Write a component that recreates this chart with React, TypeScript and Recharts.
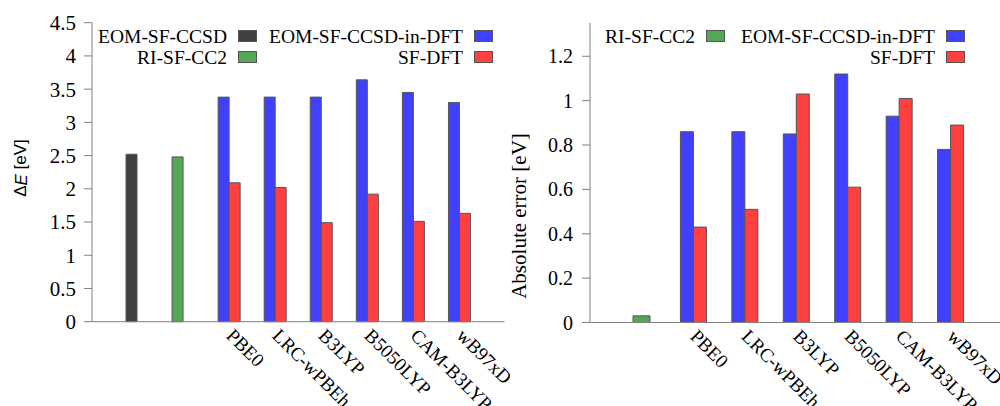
import { BarChart, Bar, Cell, XAxis, YAxis, Legend, Label } from 'recharts'

// methods on the x axis
const referenceMethods = ['EOM-SF-CCSD', 'RI-SF-CC2']
const functionals = ['PBE0', 'LRC-wPBEh', 'B3LYP', 'B5050LYP', 'CAM-B3LYP', 'wB97xD']

// left panel: excitation energies, eV
const eomSfCcsd = [2.52]
const riSfCc2 = [2.48]
const embeddedEnergy = [3.38, 3.38, 3.38, 3.64, 3.45, 3.3]
const sfDftEnergy = [2.09, 2.02, 1.49, 1.92, 1.51, 1.63]

// right panel: absolute error vs EOM-SF-CCSD, eV
const riSfCc2Error = [0.03]
const embeddedError = [0.86, 0.86, 0.85, 1.12, 0.93, 0.78]
const sfDftError = [0.43, 0.51, 1.03, 0.61, 1.01, 0.89]

const energyTicks = [0, 0.5, 1, 1.5, 2, 2.5, 3, 3.5, 4, 4.5]
const errorTicks = [0, 0.2, 0.4, 0.6, 0.8, 1, 1.2]

const COLORS = {
  eom: '#404040',
  cc2: '#55a655',
  embedded: '#4040ff',
  sfDft: '#ff4040',
  edge: '#555555',
  axis: '#808080',
}
const SERIF = "'Liberation Serif', 'Times New Roman', serif"
const SANS = "'Liberation Sans', Arial, sans-serif"

const energyData = [
  { name: referenceMethods[0], first: eomSfCcsd[0], second: null },
  { name: referenceMethods[1], first: riSfCc2[0], second: null },
  ...functionals.map((name, i) => ({ name, first: embeddedEnergy[i], second: sfDftEnergy[i] })),
]
const energyColors = [COLORS.eom, COLORS.cc2, ...functionals.map(() => COLORS.embedded)]

const errorData = [
  { name: referenceMethods[1], cc2: riSfCc2Error[0], embedded: null, sfDft: null },
  ...functionals.map((name, i) => ({ name, cc2: null, embedded: embeddedError[i], sfDft: sfDftError[i] })),
]

function AngledTick({ x, y, payload }: any) {
  if (referenceMethods.includes(payload.value)) return <g />
  const ax = x - 4
  const ay = y + 15
  return (
    <text
      x={ax}
      y={ay}
      transform={`rotate(45, ${ax}, ${ay})`}
      textAnchor="start"
      style={{ fontFamily: SERIF, fontSize: 19 }}
      fill="#000"
    >
      {payload.value}
    </text>
  )
}

function ValueTick({ x, y, payload, size }: any) {
  return (
    <text x={x} y={y} dy="0.355em" textAnchor="end" style={{ fontFamily: SERIF, fontSize: size }} fill="#000">
      {payload.value}
    </text>
  )
}

interface LegendItem {
  label: string
  color: string
  textRight: number
  row: number
}

function legendContent(items: LegendItem[], width: number, height: number) {
  return () => (
    <svg width={width} height={height} style={{ display: 'block' }}>
      {items.map(({ label, color, textRight, row }) => (
        <g key={label}>
          <text
            x={textRight}
            y={43 + row * 20.5}
            textAnchor="end"
            style={{ fontFamily: SERIF, fontSize: 19.5 }}
            fill="#000"
          >
            {label}
          </text>
          <rect
            x={textRight + 11.5}
            y={30.5 + row * 21}
            width={18}
            height={11}
            fill={color}
            stroke={COLORS.edge}
          />
        </g>
      ))}
    </svg>
  )
}

const energyLegend: LegendItem[] = [
  { label: 'EOM-SF-CCSD', color: COLORS.eom, textRight: 227, row: 0 },
  { label: 'RI-SF-CC2', color: COLORS.cc2, textRight: 227, row: 1 },
  { label: 'EOM-SF-CCSD-in-DFT', color: COLORS.embedded, textRight: 463, row: 0 },
  { label: 'SF-DFT', color: COLORS.sfDft, textRight: 463, row: 1 },
]

const errorLegend: LegendItem[] = [
  { label: 'RI-SF-CC2', color: COLORS.cc2, textRight: 195, row: 0 },
  { label: 'EOM-SF-CCSD-in-DFT', color: COLORS.embedded, textRight: 435, row: 0 },
  { label: 'SF-DFT', color: COLORS.sfDft, textRight: 435, row: 1 },
]

function EnergyChart() {
  const W = 510
  const H = 406
  return (
    <BarChart
      width={W}
      height={H}
      data={energyData}
      margin={{ top: 22.7, right: 5.5, bottom: 0, left: 0 }}
      barSize={11}
      barGap={0}
    >
      <XAxis
        dataKey="name"
        height={84.3}
        padding={{ left: 22, right: 22 }}
        axisLine={{ stroke: COLORS.axis }}
        tickLine={false}
        tickSize={0}
        tickMargin={0}
        interval={0}
        tick={<AngledTick />}
      />
      <XAxis
        xAxisId="top"
        orientation="top"
        dataKey="name"
        height={0}
        tick={false}
        tickLine={false}
        axisLine={{ stroke: COLORS.axis }}
      />
      <YAxis
        width={92}
        domain={[0, 4.5]}
        ticks={energyTicks}
        interval={0}
        tickSize={8}
        tickMargin={8}
        tick={<ValueTick size={21} />}
        axisLine={{ stroke: COLORS.axis }}
        tickLine={{ stroke: COLORS.axis }}
      >
        <Label
          content={() => (
            <text
              x={20.5}
              y={168}
              transform="rotate(-90, 20.5, 168)"
              textAnchor="middle"
              dominantBaseline="central"
              style={{ fontFamily: SANS, fontSize: 17 }}
              fill="#000"
            >
              Δ<tspan fontStyle="italic">E</tspan> [eV]
            </text>
          )}
        />
      </YAxis>
      <YAxis
        yAxisId="right"
        orientation="right"
        width={0}
        domain={[0, 4.5]}
        tick={false}
        tickLine={false}
        axisLine={{ stroke: COLORS.axis }}
      />
      <Legend
        layout="horizontal"
        verticalAlign="middle"
        align="center"
        wrapperStyle={{ position: 'absolute', left: 0, top: 0, width: W, height: H, pointerEvents: 'none' }}
        content={legendContent(energyLegend, W, H)}
      />
      <Bar dataKey="first" stroke={COLORS.edge} strokeWidth={1} isAnimationActive={false}>
        {energyData.map((d, i) => (
          <Cell key={d.name} fill={energyColors[i]} />
        ))}
      </Bar>
      <Bar dataKey="second" fill={COLORS.sfDft} stroke={COLORS.edge} strokeWidth={1} isAnimationActive={false} />
    </BarChart>
  )
}

function ErrorChart() {
  const W = 520
  const H = 406
  return (
    <BarChart
      width={W}
      height={H}
      data={errorData}
      margin={{ top: 23, right: 18, bottom: 0, left: 0 }}
      barSize={13}
      barGap={0}
    >
      <XAxis
        dataKey="name"
        height={83.5}
        padding={{ left: 26, right: 26 }}
        axisLine={{ stroke: COLORS.axis }}
        tickLine={false}
        tickSize={0}
        tickMargin={0}
        interval={0}
        tick={<AngledTick />}
      />
      <XAxis xAxisId="cc2" dataKey="name" hide padding={{ left: 26, right: 26 }} />
      <XAxis
        xAxisId="top"
        orientation="top"
        dataKey="name"
        height={0}
        tick={false}
        tickLine={false}
        axisLine={{ stroke: COLORS.axis }}
      />
      <YAxis
        width={90}
        domain={[0, 1.35]}
        ticks={errorTicks}
        interval={0}
        tickSize={8}
        tickMargin={9}
        tick={<ValueTick size={20} />}
        axisLine={{ stroke: COLORS.axis }}
        tickLine={{ stroke: COLORS.axis }}
      >
        <Label
          content={() => (
            <text
              x={18.5}
              y={216}
              transform="rotate(-90, 18.5, 216)"
              textAnchor="middle"
              dominantBaseline="central"
              style={{ fontFamily: SERIF, fontSize: 21 }}
              fill="#000"
            >
              Absolute error [eV]
            </text>
          )}
        />
      </YAxis>
      <Legend
        layout="horizontal"
        verticalAlign="middle"
        align="center"
        wrapperStyle={{ position: 'absolute', left: 0, top: 0, width: W, height: H, pointerEvents: 'none' }}
        content={legendContent(errorLegend, W, H)}
      />
      <Bar
        xAxisId="cc2"
        dataKey="cc2"
        barSize={17}
        fill={COLORS.cc2}
        stroke={COLORS.edge}
        strokeWidth={1}
        isAnimationActive={false}
      />
      <Bar dataKey="embedded" fill={COLORS.embedded} stroke={COLORS.edge} strokeWidth={1} isAnimationActive={false} />
      <Bar dataKey="sfDft" fill={COLORS.sfDft} stroke={COLORS.edge} strokeWidth={1} isAnimationActive={false} />
    </BarChart>
  )
}

export default function App() {
  return (
    <div
      style={{
        position: 'absolute',
        left: 0,
        top: 0,
        width: 1000,
        height: 406,
        overflow: 'hidden',
        background: '#fff',
      }}
    >
      <div style={{ position: 'absolute', left: 0, top: 0 }}>
        <EnergyChart />
      </div>
      <div style={{ position: 'absolute', left: 500, top: 0 }}>
        <ErrorChart />
      </div>
    </div>
  )
}
